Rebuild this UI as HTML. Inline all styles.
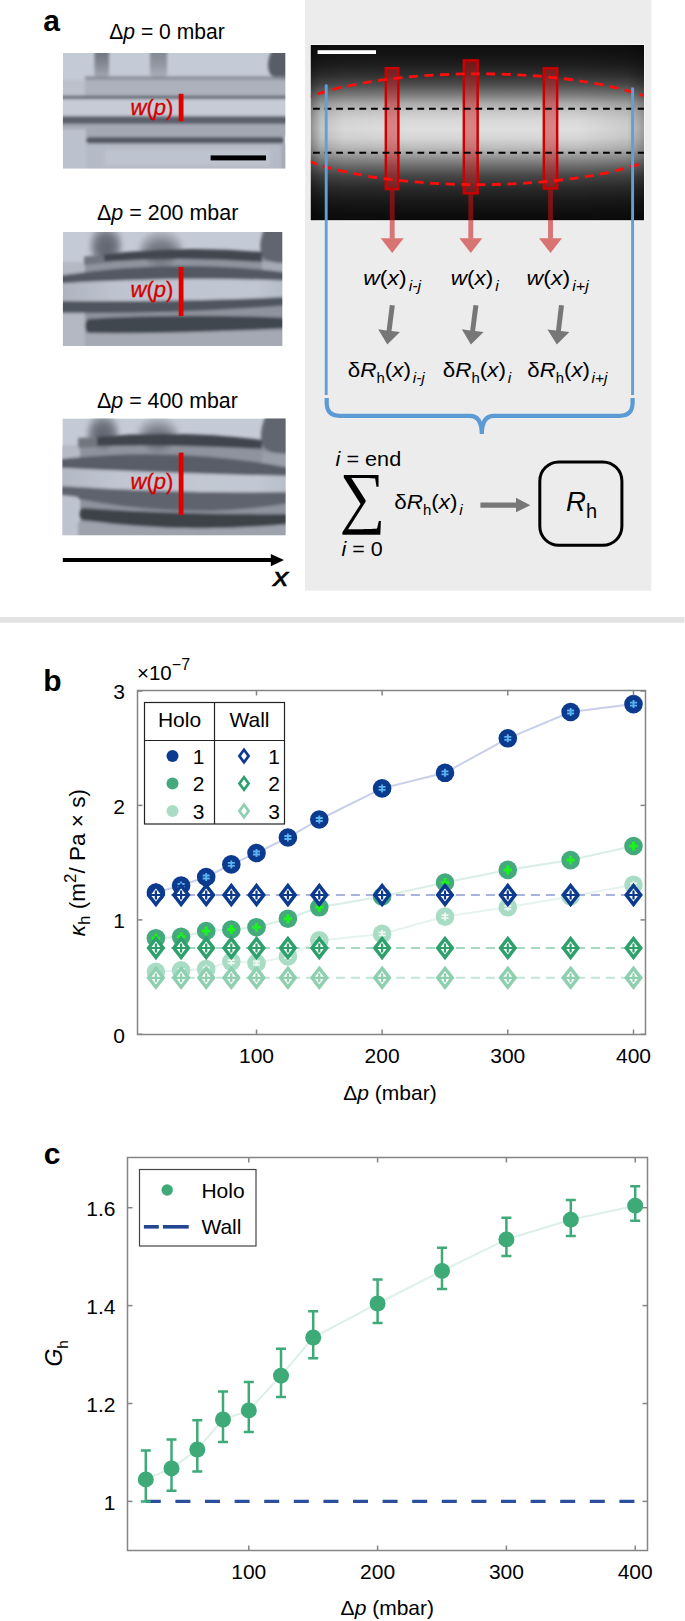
<!DOCTYPE html>
<html><head><meta charset="utf-8"><style>
html,body{margin:0;padding:0;background:#fff;}
svg{display:block;}
text{font-family:"Liberation Sans", Arial, Helvetica, sans-serif;fill:#000;}
</style></head><body>
<svg width="685" height="1621" viewBox="0 0 685 1621">
<defs>
<filter id="bl" x="-5%" y="-5%" width="110%" height="110%"><feGaussianBlur stdDeviation="1.5"/></filter>
<filter id="bl2" x="-5%" y="-5%" width="110%" height="110%"><feGaussianBlur stdDeviation="1.6"/></filter>
<linearGradient id="bl1" x1="0" y1="0" x2="0" y2="1"><stop offset="0" stop-color="#666b76"/><stop offset="0.5" stop-color="#80858f"/><stop offset="1" stop-color="#a9aeb9"/></linearGradient>
<linearGradient id="bl1b" x1="0" y1="0" x2="0" y2="1"><stop offset="0" stop-color="#7b808b"/><stop offset="0.5" stop-color="#8e939e"/><stop offset="1" stop-color="#adb2bd"/></linearGradient>
<filter id="bl3" x="-30%" y="-30%" width="160%" height="160%"><feGaussianBlur stdDeviation="2.2"/></filter>
<radialGradient id="blob" cx="0.5" cy="0.55" r="0.5"><stop offset="0" stop-color="#5e636e"/><stop offset="0.6" stop-color="#6f747f"/><stop offset="1" stop-color="#a3a8b3"/></radialGradient>
<radialGradient id="blob2" cx="0.5" cy="0.6" r="0.5"><stop offset="0" stop-color="#6a6f7a"/><stop offset="0.6" stop-color="#7a7f8a"/><stop offset="1" stop-color="#a9aeb9"/></radialGradient>
<linearGradient id="ch2" x1="0" y1="0" x2="1" y2="0"><stop offset="0" stop-color="#adb3be"/><stop offset="0.25" stop-color="#bec4cf"/><stop offset="0.85" stop-color="#c1c7d2"/><stop offset="1" stop-color="#b4bac5"/></linearGradient>
<linearGradient id="ch3" x1="0" y1="0" x2="1" y2="0"><stop offset="0" stop-color="#b2b8c3"/><stop offset="0.25" stop-color="#c0c6d1"/><stop offset="0.85" stop-color="#c2c8d3"/><stop offset="1" stop-color="#b8bec9"/></linearGradient>
<clipPath id="c1"><rect x="62.9" y="52.9" width="222.4" height="115.6"/></clipPath>
<clipPath id="c2"><rect x="62.9" y="232" width="219.4" height="113.9"/></clipPath>
<clipPath id="c3"><rect x="62.4" y="418.4" width="223.2" height="116.9"/></clipPath>
<clipPath id="cf"><rect x="310.8" y="45" width="333.2" height="175.2"/></clipPath>
<linearGradient id="fv" x1="0" y1="0" x2="0" y2="1"><stop offset="0.000" stop-color="#0e0e0e"/><stop offset="0.057" stop-color="#141414"/><stop offset="0.114" stop-color="#1e1e1e"/><stop offset="0.171" stop-color="#303030"/><stop offset="0.228" stop-color="#4e4e4e"/><stop offset="0.285" stop-color="#7c7c7c"/><stop offset="0.331" stop-color="#a8a8a8"/><stop offset="0.382" stop-color="#c8c8c8"/><stop offset="0.434" stop-color="#d9d9d9"/><stop offset="0.479" stop-color="#dedede"/><stop offset="0.531" stop-color="#d6d6d6"/><stop offset="0.588" stop-color="#bcbcbc"/><stop offset="0.639" stop-color="#969696"/><stop offset="0.691" stop-color="#6c6c6c"/><stop offset="0.748" stop-color="#464646"/><stop offset="0.811" stop-color="#2c2c2c"/><stop offset="0.873" stop-color="#1c1c1c"/><stop offset="0.942" stop-color="#111"/><stop offset="1.000" stop-color="#0a0a0a"/></linearGradient>
<linearGradient id="fh" x1="0" y1="0" x2="1" y2="0">
<stop offset="0" stop-color="#000" stop-opacity="0.35"/><stop offset="0.03" stop-color="#000" stop-opacity="0.12"/><stop offset="0.1" stop-color="#000" stop-opacity="0.03"/>
<stop offset="0.3" stop-color="#000" stop-opacity="0"/><stop offset="0.8" stop-color="#000" stop-opacity="0"/>
<stop offset="0.95" stop-color="#000" stop-opacity="0.08"/><stop offset="1" stop-color="#000" stop-opacity="0.3"/>
</linearGradient>
</defs>
<rect x="305" y="0" width="346.3" height="590.6" fill="#ececec"/>
<rect x="0" y="617" width="684.4" height="5.7" fill="#e3e3e3"/>
<text x="43.3" y="30.6" font-size="30" font-weight="bold">a</text>
<text x="109.2" y="39.4" font-size="21.5" textLength="115.5" lengthAdjust="spacingAndGlyphs">Δ<tspan font-style="italic">p</tspan> = 0 mbar</text>
<text x="97" y="220.2" font-size="21.5" textLength="141.3" lengthAdjust="spacingAndGlyphs">Δ<tspan font-style="italic">p</tspan> = 200 mbar</text>
<text x="97" y="408" font-size="21.5" textLength="140.9" lengthAdjust="spacingAndGlyphs">Δ<tspan font-style="italic">p</tspan> = 400 mbar</text>
<g clip-path="url(#c1)"><rect x="62.9" y="52.9" width="222.4" height="115.6" fill="#c4cad6"/><g filter="url(#bl)"><rect x="85" y="78" width="205" height="18" fill="#acb1bc"/><rect x="60" y="80" width="25" height="16" fill="#bcc1cc"/><rect x="94.5" y="45" width="14.5" height="35" rx="6" fill="url(#bl1)"/><rect x="150" y="45" width="17" height="34" rx="6" fill="url(#bl1b)"/><path d="M290 50 L272 50 Q265 64 270 74 Q276 80 290 80Z" fill="#585d68"/><rect x="85" y="76.5" width="205" height="3" fill="#858a95"/><rect x="60" y="95.8" width="230" height="3.4" fill="#5b606b"/><rect x="60" y="99.2" width="230" height="16.8" fill="#c6cbd5"/><rect x="60" y="116" width="230" height="8" fill="#5c616c"/><rect x="60" y="124" width="230" height="13" fill="#a3a8b3"/><rect x="60" y="129" width="26" height="42" fill="#bcc2cd"/><rect x="86" y="143" width="204" height="28" fill="#b5bbc6"/><rect x="105" y="150" width="165" height="15" fill="#bec4cf"/><rect x="281" y="143" width="9" height="30" fill="#a5aab5"/><rect x="86" y="137" width="198" height="6.5" rx="3.2" fill="#535863"/></g></g>
<g clip-path="url(#c2)"><rect x="62.9" y="232" width="219.4" height="113.9" fill="#c4cad6"/><g filter="url(#bl2)"><path d="M60 262 L85 262 L85 348 L60 348Z" fill="#b3b8c3"/><path d="M85 256 L290 252 L290 348 L85 348Z" fill="#8e939e"/><path d="M85 333 L290 330 L290 348 L85 348Z" fill="#a4a9b4"/><path d="M262 262 L290 262 L290 273 L262 272Z" fill="#a5aab5"/><ellipse cx="106" cy="245" rx="16" ry="20" fill="url(#blob)" filter="url(#bl3)"/><ellipse cx="161" cy="250" rx="22" ry="19" fill="url(#blob2)" filter="url(#bl3)"/><path d="M290 229 L264 229 Q257 248 263 258 Q270 264 290 263Z" fill="#60656f"/><path d="M100 255 Q180 245 262 252 L262 262 Q180 256 100 262Z" fill="#42474f"/><path d="M84 257 L104 255 L104 263 L84 265Z" fill="#6f747f"/><path d="M60 275.5 Q180 258 290 273 L290 281 Q180 276 60 283.5Z" fill="#535863"/><path d="M60 283.5 Q180 276 290 281 L290 297 Q180 302 60 301Z" fill="url(#ch2)"/><path d="M60 301 Q180 302 290 297 L290 305 Q180 314 60 313Z" fill="#4f545e"/><path d="M88 319 Q180 313 290 318 L290 328 Q180 334 88 333 Q82 326 88 319Z" fill="#41464f"/></g></g>
<g clip-path="url(#c3)"><rect x="62.4" y="418.4" width="223.2" height="116.9" fill="#c4cad6"/><g filter="url(#bl2)"><path d="M80 440 L290 440 L290 540 L80 540Z" fill="#8e939e"/><path d="M78 522 L290 520 L290 540 L78 540Z" fill="#9da2ad"/><path d="M60 445 L80 445 L80 458 L60 458Z" fill="#b5bac5"/><ellipse cx="103" cy="433" rx="16" ry="19" fill="url(#blob)" filter="url(#bl3)"/><ellipse cx="158" cy="436" rx="21" ry="18" fill="url(#blob2)" filter="url(#bl3)"/><path d="M290 415 L266 415 Q257 436 264 448 Q272 455 290 454Z" fill="#60656f"/><path d="M262 452 L290 454 L290 468 L262 466Z" fill="#9a9faa"/><path d="M95 437 Q180 429 262 440 L262 449 Q180 444 95 446Z" fill="#3f444d"/><path d="M78 438 L97 437 L97 447 L78 448Z" fill="#72777f"/><path d="M60 459 Q180 446 290 468 L290 476 Q180 474 60 468Z" fill="#585d68"/><path d="M60 468 Q180 474 290 476 L290 492 Q180 494 60 486Z" fill="url(#ch3)"/><path d="M60 486 Q180 494 290 492 L290 503 Q180 522 60 495Z" fill="#5e636e"/><path d="M82 508 Q180 515 290 514 L290 524 Q180 534 82 520 Q76 514 82 508Z" fill="#3d424a"/><path d="M60 495 L78 497 L78 540 L60 540Z" fill="#bec4cf"/></g></g>
<rect x="178.7" y="93.8" width="4.8" height="27.5" fill="#e00000"/>
<text x="130.5" y="115.3" font-size="22" style="fill:#d40000;stroke:#d40000;stroke-width:0.35"><tspan font-style="italic">w</tspan>(<tspan font-style="italic">p</tspan>)</text>
<rect x="178.7" y="267" width="4.8" height="49.1" fill="#e00000"/>
<text x="130.5" y="297" font-size="22" style="fill:#d40000;stroke:#d40000;stroke-width:0.35"><tspan font-style="italic">w</tspan>(<tspan font-style="italic">p</tspan>)</text>
<rect x="178.7" y="452.6" width="4.8" height="62.5" fill="#e00000"/>
<text x="130.5" y="489" font-size="22" style="fill:#d40000;stroke:#d40000;stroke-width:0.35"><tspan font-style="italic">w</tspan>(<tspan font-style="italic">p</tspan>)</text>
<rect x="210.6" y="155.4" width="55.4" height="5" fill="#000"/>
<rect x="62.8" y="558" width="210" height="4" fill="#000"/>
<path d="M270.8 553.9L284 560L270.8 566.3Z" fill="#000"/>
<text transform="translate(273.3,585.8) scale(1.2,1)" font-size="25" font-style="italic" style="stroke:#000;stroke-width:0.6">x</text>
<rect x="309.8" y="44" width="335.2" height="177.4" fill="#f6f6f6"/>
<rect x="310.8" y="45" width="333.2" height="175.2" fill="url(#fv)"/>
<rect x="310.8" y="45" width="333.2" height="175.2" fill="url(#fh)"/>
<rect x="317.6" y="50.2" width="58.4" height="3.8" fill="#fff"/>
<rect x="385.85" y="68.25" width="12.50" height="120.80" fill="rgba(210,25,25,0.45)" stroke="#cc0000" stroke-width="2.5"/>
<rect x="389.75" y="190.3" width="4.9" height="48.0" fill="rgba(201,18,18,0.55)"/>
<path d="M380.75 238.3 L403.65 238.3 L392.20 252.9Z" fill="rgba(201,18,18,0.55)"/>
<rect x="463.85" y="60.45" width="13.80" height="132.80" fill="rgba(210,25,25,0.45)" stroke="#cc0000" stroke-width="2.5"/>
<rect x="468.35" y="194.5" width="4.9" height="43.8" fill="rgba(201,18,18,0.55)"/>
<path d="M459.35 238.3 L482.25 238.3 L470.80 252.9Z" fill="rgba(201,18,18,0.55)"/>
<rect x="543.85" y="68.35" width="13.30" height="120.10" fill="rgba(210,25,25,0.45)" stroke="#cc0000" stroke-width="2.5"/>
<rect x="548.05" y="189.7" width="4.9" height="48.6" fill="rgba(201,18,18,0.55)"/>
<path d="M539.05 238.3 L561.95 238.3 L550.50 252.9Z" fill="rgba(201,18,18,0.55)"/>
<g clip-path="url(#cf)">
<ellipse cx="478" cy="129.2" rx="208" ry="55.4" fill="none" stroke="#ff0d0d" stroke-width="2.8" stroke-dasharray="9,6.5"/>
</g>
<line x1="313" y1="108.8" x2="644" y2="108.8" stroke="#000" stroke-width="2" stroke-dasharray="6.8,4.8"/>
<line x1="313" y1="152.7" x2="644" y2="152.7" stroke="#000" stroke-width="2" stroke-dasharray="6.8,4.8"/>
<line x1="326.2" y1="84.4" x2="326.2" y2="395" stroke="#5e9fdc" stroke-width="2.9"/>
<line x1="632.6" y1="87.6" x2="632.6" y2="395" stroke="#5e9fdc" stroke-width="2.9"/>
<path d="M326.7 398 L326.7 402.8 Q326.7 415.8 339.7 415.8 L469.6 415.8 Q481.8 415.8 481.8 434 Q481.8 415.8 494 415.8 L619.6 415.8 Q632.6 415.8 632.6 402.8 L632.6 398" fill="none" stroke="#5b9bd5" stroke-width="4.2"/>
<text transform="translate(363.3,284.8) scale(1.09,1)" font-size="21"><tspan font-style="italic">w</tspan>(<tspan font-style="italic">x</tspan>)<tspan font-style="italic" font-size="14.5" dx="2" dy="5.8">i-j</tspan></text>
<text transform="translate(450.8,284.8) scale(1.07,1)" font-size="21"><tspan font-style="italic">w</tspan>(<tspan font-style="italic">x</tspan>)<tspan font-style="italic" font-size="14.5" dx="2" dy="5.8">i</tspan></text>
<text transform="translate(526.5,284.8) scale(1.1,1)" font-size="21"><tspan font-style="italic">w</tspan>(<tspan font-style="italic">x</tspan>)<tspan font-style="italic" font-size="14.5" dx="2" dy="5.8">i+j</tspan></text>
<path d="M389.8 304.9 L386.6 330.4 L378.2 329.3 L387.3 344.6 L400.0 332.1 L391.5 331.0 L394.8 305.5Z" fill="#777"/>
<path d="M473.4 304.9 L470.2 330.4 L461.8 329.3 L470.9 344.6 L483.6 332.1 L475.1 331.0 L478.4 305.5Z" fill="#777"/>
<path d="M559.0 304.9 L556.0 330.4 L547.5 329.4 L556.8 344.6 L569.4 332.0 L560.9 331.0 L564.0 305.5Z" fill="#777"/>
<text transform="translate(347.8,376.5) scale(1.07,1)" font-size="21">δ<tspan font-style="italic">R</tspan><tspan font-size="14" dy="6.5">h</tspan><tspan dy="-6.5">(</tspan><tspan font-style="italic">x</tspan>)<tspan font-style="italic" font-size="14.5" dx="1.5" dy="6.5">i-j</tspan></text>
<text transform="translate(442.8,376.5) scale(1.07,1)" font-size="21">δ<tspan font-style="italic">R</tspan><tspan font-size="14" dy="6.5">h</tspan><tspan dy="-6.5">(</tspan><tspan font-style="italic">x</tspan>)<tspan font-style="italic" font-size="14.5" dx="1.5" dy="6.5">i</tspan></text>
<text transform="translate(527.3,376.5) scale(1.06,1)" font-size="21">δ<tspan font-style="italic">R</tspan><tspan font-size="14" dy="6.5">h</tspan><tspan dy="-6.5">(</tspan><tspan font-style="italic">x</tspan>)<tspan font-style="italic" font-size="14.5" dx="1.5" dy="6.5">i+j</tspan></text>
<text transform="translate(335.6,465.5) scale(1.11,1)" font-size="19.5"><tspan font-style="italic">i</tspan> = end</text>
<text transform="translate(341.6,555.5) scale(1.1,1)" font-size="19.5"><tspan font-style="italic">i</tspan> = 0</text>
<text x="0" y="0" font-size="69" font-family="Liberation Serif" transform="translate(339.5,519.6) scale(0.933,1)" style="font-family:'Liberation Serif',serif">∑</text>
<text transform="translate(394.3,508.5) scale(1.07,1)" font-size="21">δ<tspan font-style="italic">R</tspan><tspan font-size="14" dy="6.5">h</tspan><tspan dy="-6.5">(</tspan><tspan font-style="italic">x</tspan>)<tspan font-style="italic" font-size="14.5" dx="1.5" dy="6.5">i</tspan></text>
<path d="M480.4 502.6 L516 502.6 L516 497.7 L530.3 505.2 L516 512.3 L516 507.8 L480.4 507.8Z" fill="#777"/>
<rect x="539.8" y="461.9" width="82.1" height="83.4" rx="19" fill="none" stroke="#000" stroke-width="3"/>
<text x="566" y="511.3" font-size="27.5"><tspan font-style="italic">R</tspan><tspan font-size="20" dy="7">h</tspan></text>
<polyline points="155.9,971.8 181.1,970.4 206.2,969.0 231.3,961.6 256.5,963.0 287.9,956.5 319.3,940.4 382.1,933.9 445.0,916.6 507.8,907.3 570.6,896.5 633.5,884.8" fill="none" stroke="#e6f3ee" stroke-width="2"/>
<polyline points="155.9,938.2 181.1,936.8 206.2,931.0 231.3,929.5 256.5,927.2 287.9,918.7 319.3,907.3 382.1,896.5 445.0,882.5 507.8,869.9 570.6,860.1 633.5,846.0" fill="none" stroke="#d9efe5" stroke-width="2"/>
<polyline points="155.9,892.5 181.1,885.5 206.2,877.0 231.3,864.4 256.5,853.0 287.9,837.5 319.3,819.5 382.1,788.4 445.0,772.8 507.8,738.3 570.6,712.0 633.5,704.1" fill="none" stroke="#c9cfe8" stroke-width="2"/>
<line x1="155.9" y1="895.0" x2="633.5" y2="895.0" stroke="#a9b3d9" stroke-width="2" stroke-dasharray="9,6"/>
<line x1="155.9" y1="948.0" x2="633.5" y2="948.0" stroke="#a6d8c0" stroke-width="2" stroke-dasharray="9,6"/>
<line x1="155.9" y1="977.8" x2="633.5" y2="977.8" stroke="#c2e6d5" stroke-width="2" stroke-dasharray="9,6"/>
<circle cx="155.9" cy="971.8" r="9.3" fill="#a9dcc5"/><path d="M155.9 967.8V975.8M152.4 970.3H159.4M152.4 973.3H159.4" stroke="#eef8f3" stroke-width="1.8" fill="none"/>
<circle cx="181.1" cy="970.4" r="9.3" fill="#a9dcc5"/><path d="M181.1 966.4V974.4M177.6 968.9H184.6M177.6 971.9H184.6" stroke="#eef8f3" stroke-width="1.8" fill="none"/>
<circle cx="206.2" cy="969.0" r="9.3" fill="#a9dcc5"/><path d="M206.2 965.0V973.0M202.7 967.5H209.7M202.7 970.5H209.7" stroke="#eef8f3" stroke-width="1.8" fill="none"/>
<circle cx="231.3" cy="961.6" r="9.3" fill="#a9dcc5"/><path d="M231.3 957.6V965.6M227.8 960.1H234.8M227.8 963.1H234.8" stroke="#eef8f3" stroke-width="1.8" fill="none"/>
<circle cx="256.5" cy="963.0" r="9.3" fill="#a9dcc5"/><path d="M256.5 959.0V967.0M253.0 961.5H260.0M253.0 964.5H260.0" stroke="#eef8f3" stroke-width="1.8" fill="none"/>
<circle cx="287.9" cy="956.5" r="9.3" fill="#a9dcc5"/><path d="M287.9 952.5V960.5M284.4 955.0H291.4M284.4 958.0H291.4" stroke="#eef8f3" stroke-width="1.8" fill="none"/>
<circle cx="319.3" cy="940.4" r="9.3" fill="#a9dcc5"/><path d="M319.3 936.4V944.4M315.8 938.9H322.8M315.8 941.9H322.8" stroke="#eef8f3" stroke-width="1.8" fill="none"/>
<circle cx="382.1" cy="933.9" r="9.3" fill="#a9dcc5"/><path d="M382.1 929.9V937.9M378.6 932.4H385.6M378.6 935.4H385.6" stroke="#eef8f3" stroke-width="1.8" fill="none"/>
<circle cx="445.0" cy="916.6" r="9.3" fill="#a9dcc5"/><path d="M445.0 912.6V920.6M441.5 915.1H448.5M441.5 918.1H448.5" stroke="#eef8f3" stroke-width="1.8" fill="none"/>
<circle cx="507.8" cy="907.3" r="9.3" fill="#a9dcc5"/><path d="M507.8 903.3V911.3M504.3 905.8H511.3M504.3 908.8H511.3" stroke="#eef8f3" stroke-width="1.8" fill="none"/>
<circle cx="570.6" cy="896.5" r="9.3" fill="#a9dcc5"/><path d="M570.6 892.5V900.5M567.1 895.0H574.1M567.1 898.0H574.1" stroke="#eef8f3" stroke-width="1.8" fill="none"/>
<circle cx="633.5" cy="884.8" r="9.3" fill="#a9dcc5"/><path d="M633.5 880.8V888.8M630.0 883.3H637.0M630.0 886.3H637.0" stroke="#eef8f3" stroke-width="1.8" fill="none"/>
<path d="M155.9 968.4L163.2 977.8L155.9 987.2L148.6 977.8Z" fill="#fff" stroke="#8dcfae" stroke-width="3.4"/><path d="M155.9 973.3V982.3M150.4 977.8H161.4" stroke="#8dcfae" stroke-width="2.2" fill="none"/>
<path d="M181.1 968.4L188.4 977.8L181.1 987.2L173.8 977.8Z" fill="#fff" stroke="#8dcfae" stroke-width="3.4"/><path d="M181.1 973.3V982.3M175.6 977.8H186.6" stroke="#8dcfae" stroke-width="2.2" fill="none"/>
<path d="M206.2 968.4L213.5 977.8L206.2 987.2L198.9 977.8Z" fill="#fff" stroke="#8dcfae" stroke-width="3.4"/><path d="M206.2 973.3V982.3M200.7 977.8H211.7" stroke="#8dcfae" stroke-width="2.2" fill="none"/>
<path d="M231.3 968.4L238.6 977.8L231.3 987.2L224.0 977.8Z" fill="#fff" stroke="#8dcfae" stroke-width="3.4"/><path d="M231.3 973.3V982.3M225.8 977.8H236.8" stroke="#8dcfae" stroke-width="2.2" fill="none"/>
<path d="M256.5 968.4L263.8 977.8L256.5 987.2L249.2 977.8Z" fill="#fff" stroke="#8dcfae" stroke-width="3.4"/><path d="M256.5 973.3V982.3M251.0 977.8H262.0" stroke="#8dcfae" stroke-width="2.2" fill="none"/>
<path d="M287.9 968.4L295.2 977.8L287.9 987.2L280.6 977.8Z" fill="#fff" stroke="#8dcfae" stroke-width="3.4"/><path d="M287.9 973.3V982.3M282.4 977.8H293.4" stroke="#8dcfae" stroke-width="2.2" fill="none"/>
<path d="M319.3 968.4L326.6 977.8L319.3 987.2L312.0 977.8Z" fill="#fff" stroke="#8dcfae" stroke-width="3.4"/><path d="M319.3 973.3V982.3M313.8 977.8H324.8" stroke="#8dcfae" stroke-width="2.2" fill="none"/>
<path d="M382.1 968.4L389.4 977.8L382.1 987.2L374.8 977.8Z" fill="#fff" stroke="#8dcfae" stroke-width="3.4"/><path d="M382.1 973.3V982.3M376.6 977.8H387.6" stroke="#8dcfae" stroke-width="2.2" fill="none"/>
<path d="M445.0 968.4L452.3 977.8L445.0 987.2L437.7 977.8Z" fill="#fff" stroke="#8dcfae" stroke-width="3.4"/><path d="M445.0 973.3V982.3M439.5 977.8H450.5" stroke="#8dcfae" stroke-width="2.2" fill="none"/>
<path d="M507.8 968.4L515.1 977.8L507.8 987.2L500.5 977.8Z" fill="#fff" stroke="#8dcfae" stroke-width="3.4"/><path d="M507.8 973.3V982.3M502.3 977.8H513.3" stroke="#8dcfae" stroke-width="2.2" fill="none"/>
<path d="M570.6 968.4L577.9 977.8L570.6 987.2L563.3 977.8Z" fill="#fff" stroke="#8dcfae" stroke-width="3.4"/><path d="M570.6 973.3V982.3M565.1 977.8H576.1" stroke="#8dcfae" stroke-width="2.2" fill="none"/>
<path d="M633.5 968.4L640.8 977.8L633.5 987.2L626.2 977.8Z" fill="#fff" stroke="#8dcfae" stroke-width="3.4"/><path d="M633.5 973.3V982.3M628.0 977.8H639.0" stroke="#8dcfae" stroke-width="2.2" fill="none"/>
<circle cx="155.9" cy="938.2" r="9.3" fill="#44a97d"/>
<path d="M155.9 933.7V942.7M151.7 938.2H160.1" stroke="#1df21d" stroke-width="3" fill="none"/>
<circle cx="181.1" cy="936.8" r="9.3" fill="#44a97d"/>
<path d="M181.1 932.3V941.3M176.9 936.8H185.3" stroke="#1df21d" stroke-width="3" fill="none"/>
<circle cx="206.2" cy="931.0" r="9.3" fill="#44a97d"/>
<path d="M206.2 926.5V935.5M202.0 931.0H210.4" stroke="#1df21d" stroke-width="3" fill="none"/>
<circle cx="231.3" cy="929.5" r="9.3" fill="#44a97d"/>
<path d="M231.3 925.0V934.0M227.1 929.5H235.5" stroke="#1df21d" stroke-width="3" fill="none"/>
<circle cx="256.5" cy="927.2" r="9.3" fill="#44a97d"/>
<path d="M256.5 922.7V931.7M252.3 927.2H260.7" stroke="#1df21d" stroke-width="3" fill="none"/>
<circle cx="287.9" cy="918.7" r="9.3" fill="#44a97d"/>
<path d="M287.9 914.2V923.2M283.7 918.7H292.1" stroke="#1df21d" stroke-width="3" fill="none"/>
<circle cx="319.3" cy="907.3" r="9.3" fill="#44a97d"/>
<path d="M319.3 902.8V911.8M315.1 907.3H323.5" stroke="#1df21d" stroke-width="3" fill="none"/>
<circle cx="382.1" cy="896.5" r="9.3" fill="#44a97d"/>
<path d="M382.1 892.0V901.0M377.9 896.5H386.3" stroke="#1df21d" stroke-width="3" fill="none"/>
<circle cx="445.0" cy="882.5" r="9.3" fill="#44a97d"/>
<path d="M445.0 878.0V887.0M440.8 882.5H449.2" stroke="#1df21d" stroke-width="3" fill="none"/>
<circle cx="507.8" cy="869.9" r="9.3" fill="#44a97d"/>
<path d="M507.8 865.4V874.4M503.6 869.9H512.0" stroke="#1df21d" stroke-width="3" fill="none"/>
<circle cx="570.6" cy="860.1" r="9.3" fill="#44a97d"/>
<path d="M570.6 855.6V864.6M566.4 860.1H574.8" stroke="#1df21d" stroke-width="3" fill="none"/>
<circle cx="633.5" cy="846.0" r="9.3" fill="#44a97d"/>
<path d="M633.5 841.5V850.5M629.3 846.0H637.7" stroke="#1df21d" stroke-width="3" fill="none"/>
<path d="M155.9 938.6L163.2 948.0L155.9 957.4L148.6 948.0Z" fill="#fff" stroke="#2ea06c" stroke-width="3.4"/><path d="M155.9 943.5V952.5M150.4 948.0H161.4" stroke="#2ea06c" stroke-width="2.2" fill="none"/>
<path d="M181.1 938.6L188.4 948.0L181.1 957.4L173.8 948.0Z" fill="#fff" stroke="#2ea06c" stroke-width="3.4"/><path d="M181.1 943.5V952.5M175.6 948.0H186.6" stroke="#2ea06c" stroke-width="2.2" fill="none"/>
<path d="M206.2 938.6L213.5 948.0L206.2 957.4L198.9 948.0Z" fill="#fff" stroke="#2ea06c" stroke-width="3.4"/><path d="M206.2 943.5V952.5M200.7 948.0H211.7" stroke="#2ea06c" stroke-width="2.2" fill="none"/>
<path d="M231.3 938.6L238.6 948.0L231.3 957.4L224.0 948.0Z" fill="#fff" stroke="#2ea06c" stroke-width="3.4"/><path d="M231.3 943.5V952.5M225.8 948.0H236.8" stroke="#2ea06c" stroke-width="2.2" fill="none"/>
<path d="M256.5 938.6L263.8 948.0L256.5 957.4L249.2 948.0Z" fill="#fff" stroke="#2ea06c" stroke-width="3.4"/><path d="M256.5 943.5V952.5M251.0 948.0H262.0" stroke="#2ea06c" stroke-width="2.2" fill="none"/>
<path d="M287.9 938.6L295.2 948.0L287.9 957.4L280.6 948.0Z" fill="#fff" stroke="#2ea06c" stroke-width="3.4"/><path d="M287.9 943.5V952.5M282.4 948.0H293.4" stroke="#2ea06c" stroke-width="2.2" fill="none"/>
<path d="M319.3 938.6L326.6 948.0L319.3 957.4L312.0 948.0Z" fill="#fff" stroke="#2ea06c" stroke-width="3.4"/><path d="M319.3 943.5V952.5M313.8 948.0H324.8" stroke="#2ea06c" stroke-width="2.2" fill="none"/>
<path d="M382.1 938.6L389.4 948.0L382.1 957.4L374.8 948.0Z" fill="#fff" stroke="#2ea06c" stroke-width="3.4"/><path d="M382.1 943.5V952.5M376.6 948.0H387.6" stroke="#2ea06c" stroke-width="2.2" fill="none"/>
<path d="M445.0 938.6L452.3 948.0L445.0 957.4L437.7 948.0Z" fill="#fff" stroke="#2ea06c" stroke-width="3.4"/><path d="M445.0 943.5V952.5M439.5 948.0H450.5" stroke="#2ea06c" stroke-width="2.2" fill="none"/>
<path d="M507.8 938.6L515.1 948.0L507.8 957.4L500.5 948.0Z" fill="#fff" stroke="#2ea06c" stroke-width="3.4"/><path d="M507.8 943.5V952.5M502.3 948.0H513.3" stroke="#2ea06c" stroke-width="2.2" fill="none"/>
<path d="M570.6 938.6L577.9 948.0L570.6 957.4L563.3 948.0Z" fill="#fff" stroke="#2ea06c" stroke-width="3.4"/><path d="M570.6 943.5V952.5M565.1 948.0H576.1" stroke="#2ea06c" stroke-width="2.2" fill="none"/>
<path d="M633.5 938.6L640.8 948.0L633.5 957.4L626.2 948.0Z" fill="#fff" stroke="#2ea06c" stroke-width="3.4"/><path d="M633.5 943.5V952.5M628.0 948.0H639.0" stroke="#2ea06c" stroke-width="2.2" fill="none"/>
<circle cx="155.9" cy="892.5" r="9.3" fill="#0c3a8e"/><path d="M155.9 888.5V896.5M152.4 891.0H159.4M152.4 894.0H159.4" stroke="#5ab4f0" stroke-width="1.8" fill="none"/>
<circle cx="181.1" cy="885.5" r="9.3" fill="#0c3a8e"/><path d="M181.1 881.5V889.5M177.6 884.0H184.6M177.6 887.0H184.6" stroke="#5ab4f0" stroke-width="1.8" fill="none"/>
<circle cx="206.2" cy="877.0" r="9.3" fill="#0c3a8e"/><path d="M206.2 873.0V881.0M202.7 875.5H209.7M202.7 878.5H209.7" stroke="#5ab4f0" stroke-width="1.8" fill="none"/>
<circle cx="231.3" cy="864.4" r="9.3" fill="#0c3a8e"/><path d="M231.3 860.4V868.4M227.8 862.9H234.8M227.8 865.9H234.8" stroke="#5ab4f0" stroke-width="1.8" fill="none"/>
<circle cx="256.5" cy="853.0" r="9.3" fill="#0c3a8e"/><path d="M256.5 849.0V857.0M253.0 851.5H260.0M253.0 854.5H260.0" stroke="#5ab4f0" stroke-width="1.8" fill="none"/>
<circle cx="287.9" cy="837.5" r="9.3" fill="#0c3a8e"/><path d="M287.9 833.5V841.5M284.4 836.0H291.4M284.4 839.0H291.4" stroke="#5ab4f0" stroke-width="1.8" fill="none"/>
<circle cx="319.3" cy="819.5" r="9.3" fill="#0c3a8e"/><path d="M319.3 815.5V823.5M315.8 818.0H322.8M315.8 821.0H322.8" stroke="#5ab4f0" stroke-width="1.8" fill="none"/>
<circle cx="382.1" cy="788.4" r="9.3" fill="#0c3a8e"/><path d="M382.1 784.4V792.4M378.6 786.9H385.6M378.6 789.9H385.6" stroke="#5ab4f0" stroke-width="1.8" fill="none"/>
<circle cx="445.0" cy="772.8" r="9.3" fill="#0c3a8e"/><path d="M445.0 768.8V776.8M441.5 771.3H448.5M441.5 774.3H448.5" stroke="#5ab4f0" stroke-width="1.8" fill="none"/>
<circle cx="507.8" cy="738.3" r="9.3" fill="#0c3a8e"/><path d="M507.8 734.3V742.3M504.3 736.8H511.3M504.3 739.8H511.3" stroke="#5ab4f0" stroke-width="1.8" fill="none"/>
<circle cx="570.6" cy="712.0" r="9.3" fill="#0c3a8e"/><path d="M570.6 708.0V716.0M567.1 710.5H574.1M567.1 713.5H574.1" stroke="#5ab4f0" stroke-width="1.8" fill="none"/>
<circle cx="633.5" cy="704.1" r="9.3" fill="#0c3a8e"/><path d="M633.5 700.1V708.1M630.0 702.6H637.0M630.0 705.6H637.0" stroke="#5ab4f0" stroke-width="1.8" fill="none"/>
<path d="M155.9 885.6L163.2 895.0L155.9 904.4L148.6 895.0Z" fill="#fff" stroke="#0c3a8e" stroke-width="3.4"/><path d="M155.9 890.5V899.5M150.4 895.0H161.4" stroke="#0c3a8e" stroke-width="2.2" fill="none"/>
<path d="M181.1 885.6L188.4 895.0L181.1 904.4L173.8 895.0Z" fill="#fff" stroke="#0c3a8e" stroke-width="3.4"/><path d="M181.1 890.5V899.5M175.6 895.0H186.6" stroke="#0c3a8e" stroke-width="2.2" fill="none"/>
<path d="M206.2 885.6L213.5 895.0L206.2 904.4L198.9 895.0Z" fill="#fff" stroke="#0c3a8e" stroke-width="3.4"/><path d="M206.2 890.5V899.5M200.7 895.0H211.7" stroke="#0c3a8e" stroke-width="2.2" fill="none"/>
<path d="M231.3 885.6L238.6 895.0L231.3 904.4L224.0 895.0Z" fill="#fff" stroke="#0c3a8e" stroke-width="3.4"/><path d="M231.3 890.5V899.5M225.8 895.0H236.8" stroke="#0c3a8e" stroke-width="2.2" fill="none"/>
<path d="M256.5 885.6L263.8 895.0L256.5 904.4L249.2 895.0Z" fill="#fff" stroke="#0c3a8e" stroke-width="3.4"/><path d="M256.5 890.5V899.5M251.0 895.0H262.0" stroke="#0c3a8e" stroke-width="2.2" fill="none"/>
<path d="M287.9 885.6L295.2 895.0L287.9 904.4L280.6 895.0Z" fill="#fff" stroke="#0c3a8e" stroke-width="3.4"/><path d="M287.9 890.5V899.5M282.4 895.0H293.4" stroke="#0c3a8e" stroke-width="2.2" fill="none"/>
<path d="M319.3 885.6L326.6 895.0L319.3 904.4L312.0 895.0Z" fill="#fff" stroke="#0c3a8e" stroke-width="3.4"/><path d="M319.3 890.5V899.5M313.8 895.0H324.8" stroke="#0c3a8e" stroke-width="2.2" fill="none"/>
<path d="M382.1 885.6L389.4 895.0L382.1 904.4L374.8 895.0Z" fill="#fff" stroke="#0c3a8e" stroke-width="3.4"/><path d="M382.1 890.5V899.5M376.6 895.0H387.6" stroke="#0c3a8e" stroke-width="2.2" fill="none"/>
<path d="M445.0 885.6L452.3 895.0L445.0 904.4L437.7 895.0Z" fill="#fff" stroke="#0c3a8e" stroke-width="3.4"/><path d="M445.0 890.5V899.5M439.5 895.0H450.5" stroke="#0c3a8e" stroke-width="2.2" fill="none"/>
<path d="M507.8 885.6L515.1 895.0L507.8 904.4L500.5 895.0Z" fill="#fff" stroke="#0c3a8e" stroke-width="3.4"/><path d="M507.8 890.5V899.5M502.3 895.0H513.3" stroke="#0c3a8e" stroke-width="2.2" fill="none"/>
<path d="M570.6 885.6L577.9 895.0L570.6 904.4L563.3 895.0Z" fill="#fff" stroke="#0c3a8e" stroke-width="3.4"/><path d="M570.6 890.5V899.5M565.1 895.0H576.1" stroke="#0c3a8e" stroke-width="2.2" fill="none"/>
<path d="M633.5 885.6L640.8 895.0L633.5 904.4L626.2 895.0Z" fill="#fff" stroke="#0c3a8e" stroke-width="3.4"/><path d="M633.5 890.5V899.5M628.0 895.0H639.0" stroke="#0c3a8e" stroke-width="2.2" fill="none"/>
<rect x="137.5" y="690.5" width="508" height="344" fill="none" stroke="#858585" stroke-width="1.5"/>
<line x1="256.5" y1="1034.5" x2="256.5" y2="1029.5" stroke="#858585" stroke-width="1.5"/>
<line x1="256.5" y1="690.5" x2="256.5" y2="695.5" stroke="#858585" stroke-width="1.5"/>
<text x="256.5" y="1063" text-anchor="middle" font-size="21">100</text>
<line x1="382.1" y1="1034.5" x2="382.1" y2="1029.5" stroke="#858585" stroke-width="1.5"/>
<line x1="382.1" y1="690.5" x2="382.1" y2="695.5" stroke="#858585" stroke-width="1.5"/>
<text x="382.1" y="1063" text-anchor="middle" font-size="21">200</text>
<line x1="507.8" y1="1034.5" x2="507.8" y2="1029.5" stroke="#858585" stroke-width="1.5"/>
<line x1="507.8" y1="690.5" x2="507.8" y2="695.5" stroke="#858585" stroke-width="1.5"/>
<text x="507.8" y="1063" text-anchor="middle" font-size="21">300</text>
<line x1="633.5" y1="1034.5" x2="633.5" y2="1029.5" stroke="#858585" stroke-width="1.5"/>
<line x1="633.5" y1="690.5" x2="633.5" y2="695.5" stroke="#858585" stroke-width="1.5"/>
<text x="633.5" y="1063" text-anchor="middle" font-size="21">400</text>
<line x1="137.5" y1="1034.3" x2="142.5" y2="1034.3" stroke="#858585" stroke-width="1.5"/>
<line x1="645.5" y1="1034.3" x2="640.5" y2="1034.3" stroke="#858585" stroke-width="1.5"/>
<text x="125" y="1042.5" text-anchor="end" font-size="21">0</text>
<line x1="137.5" y1="919.9" x2="142.5" y2="919.9" stroke="#858585" stroke-width="1.5"/>
<line x1="645.5" y1="919.9" x2="640.5" y2="919.9" stroke="#858585" stroke-width="1.5"/>
<text x="125" y="928.1" text-anchor="end" font-size="21">1</text>
<line x1="137.5" y1="805.4" x2="142.5" y2="805.4" stroke="#858585" stroke-width="1.5"/>
<line x1="645.5" y1="805.4" x2="640.5" y2="805.4" stroke="#858585" stroke-width="1.5"/>
<text x="125" y="813.6" text-anchor="end" font-size="21">2</text>
<line x1="137.5" y1="691.0" x2="142.5" y2="691.0" stroke="#858585" stroke-width="1.5"/>
<line x1="645.5" y1="691.0" x2="640.5" y2="691.0" stroke="#858585" stroke-width="1.5"/>
<text x="125" y="699.2" text-anchor="end" font-size="21">3</text>
<rect x="144.5" y="702.5" width="140" height="121.5" fill="#fff" stroke="#222" stroke-width="1.2"/>
<line x1="214.5" y1="702.5" x2="214.5" y2="824" stroke="#222" stroke-width="1.2"/>
<line x1="144.5" y1="740.5" x2="284.5" y2="740.5" stroke="#222" stroke-width="1.2"/>
<text x="179.5" y="727" text-anchor="middle" font-size="21">Holo</text>
<text x="249.5" y="727" text-anchor="middle" font-size="21">Wall</text>
<circle cx="172.5" cy="756.0" r="6" fill="#0c3a8e"/>
<text x="198.5" y="763.5" text-anchor="middle" font-size="21">1</text>
<path d="M244 749.7L248.6 756.0L244 762.3L239.4 756.0Z" fill="#fff" stroke="#0c3a8e" stroke-width="2.7"/>
<text x="274" y="763.5" text-anchor="middle" font-size="21">1</text>
<circle cx="172.5" cy="783.5" r="6" fill="#44a97d"/>
<text x="198.5" y="791.0" text-anchor="middle" font-size="21">2</text>
<path d="M244 777.2L248.6 783.5L244 789.8L239.4 783.5Z" fill="#fff" stroke="#2ea06c" stroke-width="2.7"/>
<text x="274" y="791.0" text-anchor="middle" font-size="21">2</text>
<circle cx="172.5" cy="811.0" r="6" fill="#a9dcc5"/>
<text x="198.5" y="818.5" text-anchor="middle" font-size="21">3</text>
<path d="M244 804.7L248.6 811.0L244 817.3L239.4 811.0Z" fill="#fff" stroke="#8dcfae" stroke-width="2.7"/>
<text x="274" y="818.5" text-anchor="middle" font-size="21">3</text>
<text x="137" y="680" font-size="20.5">×10<tspan dy="-10" font-size="16">−7</tspan></text>
<text x="43.3" y="691" font-size="30" font-weight="bold">b</text>
<text transform="translate(84.5,862.6) rotate(-90)" text-anchor="middle" font-size="22.5"><tspan font-style="italic">κ</tspan><tspan dy="5" font-size="17">h</tspan><tspan dy="-5"> (m</tspan><tspan dy="-9" font-size="17">2</tspan><tspan dy="9">/ Pa × s)</tspan></text>
<text x="390" y="1100" text-anchor="middle" font-size="21">Δ<tspan font-style="italic">p</tspan> (mbar)</text>
<polyline points="145.8,1479.4 171.5,1468.4 197.3,1449.5 223.0,1419.5 248.8,1410.4 281.0,1375.7 313.2,1337.5 377.6,1303.5 442.0,1270.9 506.4,1239.4 570.8,1219.7 635.2,1205.7" fill="none" stroke="#ddf0e7" stroke-width="2"/>
<line x1="145.8" y1="1501.4" x2="642.2" y2="1501.4" stroke="#2b4f9c" stroke-width="3.2" stroke-dasharray="15,14.6"/>
<path d="M145.8 1450.6V1501.4M140.8 1450.6H150.8M140.8 1501.4H150.8" stroke="#3daa78" stroke-width="2.5" fill="none"/>
<circle cx="145.8" cy="1479.4" r="8" fill="#3daa78"/>
<path d="M171.5 1439.6V1490.8M166.5 1439.6H176.5M166.5 1490.8H176.5" stroke="#3daa78" stroke-width="2.5" fill="none"/>
<circle cx="171.5" cy="1468.4" r="8" fill="#3daa78"/>
<path d="M197.3 1420.2V1471.5M192.3 1420.2H202.3M192.3 1471.5H202.3" stroke="#3daa78" stroke-width="2.5" fill="none"/>
<circle cx="197.3" cy="1449.5" r="8" fill="#3daa78"/>
<path d="M223.0 1391.4V1441.9M218.0 1391.4H228.0M218.0 1441.9H228.0" stroke="#3daa78" stroke-width="2.5" fill="none"/>
<circle cx="223.0" cy="1419.5" r="8" fill="#3daa78"/>
<path d="M248.8 1381.9V1432M243.8 1381.9H253.8M243.8 1432H253.8" stroke="#3daa78" stroke-width="2.5" fill="none"/>
<circle cx="248.8" cy="1410.4" r="8" fill="#3daa78"/>
<path d="M281.0 1348.7V1397.1M276.0 1348.7H286.0M276.0 1397.1H286.0" stroke="#3daa78" stroke-width="2.5" fill="none"/>
<circle cx="281.0" cy="1375.7" r="8" fill="#3daa78"/>
<path d="M313.2 1311.3V1358.3M308.2 1311.3H318.2M308.2 1358.3H318.2" stroke="#3daa78" stroke-width="2.5" fill="none"/>
<circle cx="313.2" cy="1337.5" r="8" fill="#3daa78"/>
<path d="M377.6 1279.6V1323M372.6 1279.6H382.6M372.6 1323H382.6" stroke="#3daa78" stroke-width="2.5" fill="none"/>
<circle cx="377.6" cy="1303.5" r="8" fill="#3daa78"/>
<path d="M442.0 1247.7V1289M437.0 1247.7H447.0M437.0 1289H447.0" stroke="#3daa78" stroke-width="2.5" fill="none"/>
<circle cx="442.0" cy="1270.9" r="8" fill="#3daa78"/>
<path d="M506.4 1217.8V1256.1M501.4 1217.8H511.4M501.4 1256.1H511.4" stroke="#3daa78" stroke-width="2.5" fill="none"/>
<circle cx="506.4" cy="1239.4" r="8" fill="#3daa78"/>
<path d="M570.8 1200V1236M565.8 1200H575.8M565.8 1236H575.8" stroke="#3daa78" stroke-width="2.5" fill="none"/>
<circle cx="570.8" cy="1219.7" r="8" fill="#3daa78"/>
<path d="M635.2 1186.3V1220.8M630.2 1186.3H640.2M630.2 1220.8H640.2" stroke="#3daa78" stroke-width="2.5" fill="none"/>
<circle cx="635.2" cy="1205.7" r="8" fill="#3daa78"/>
<rect x="127.5" y="1157.5" width="520" height="393" fill="none" stroke="#858585" stroke-width="1.5"/>
<line x1="248.8" y1="1550.5" x2="248.8" y2="1545.5" stroke="#858585" stroke-width="1.5"/>
<line x1="248.8" y1="1157.5" x2="248.8" y2="1162.5" stroke="#858585" stroke-width="1.5"/>
<text x="248.8" y="1579" text-anchor="middle" font-size="21">100</text>
<line x1="377.6" y1="1550.5" x2="377.6" y2="1545.5" stroke="#858585" stroke-width="1.5"/>
<line x1="377.6" y1="1157.5" x2="377.6" y2="1162.5" stroke="#858585" stroke-width="1.5"/>
<text x="377.6" y="1579" text-anchor="middle" font-size="21">200</text>
<line x1="506.4" y1="1550.5" x2="506.4" y2="1545.5" stroke="#858585" stroke-width="1.5"/>
<line x1="506.4" y1="1157.5" x2="506.4" y2="1162.5" stroke="#858585" stroke-width="1.5"/>
<text x="506.4" y="1579" text-anchor="middle" font-size="21">300</text>
<line x1="635.2" y1="1550.5" x2="635.2" y2="1545.5" stroke="#858585" stroke-width="1.5"/>
<line x1="635.2" y1="1157.5" x2="635.2" y2="1162.5" stroke="#858585" stroke-width="1.5"/>
<text x="635.2" y="1579" text-anchor="middle" font-size="21">400</text>
<line x1="127.5" y1="1501.4" x2="132.5" y2="1501.4" stroke="#858585" stroke-width="1.5"/>
<line x1="647.5" y1="1501.4" x2="642.5" y2="1501.4" stroke="#858585" stroke-width="1.5"/>
<text x="115.5" y="1509.6" text-anchor="end" font-size="21">1</text>
<line x1="127.5" y1="1403.5" x2="132.5" y2="1403.5" stroke="#858585" stroke-width="1.5"/>
<line x1="647.5" y1="1403.5" x2="642.5" y2="1403.5" stroke="#858585" stroke-width="1.5"/>
<text x="115.5" y="1411.7" text-anchor="end" font-size="21">1.2</text>
<line x1="127.5" y1="1305.6" x2="132.5" y2="1305.6" stroke="#858585" stroke-width="1.5"/>
<line x1="647.5" y1="1305.6" x2="642.5" y2="1305.6" stroke="#858585" stroke-width="1.5"/>
<text x="115.5" y="1313.8" text-anchor="end" font-size="21">1.4</text>
<line x1="127.5" y1="1207.7" x2="132.5" y2="1207.7" stroke="#858585" stroke-width="1.5"/>
<line x1="647.5" y1="1207.7" x2="642.5" y2="1207.7" stroke="#858585" stroke-width="1.5"/>
<text x="115.5" y="1215.9" text-anchor="end" font-size="21">1.6</text>
<rect x="139.5" y="1169.5" width="116.5" height="76.5" fill="#fff" stroke="#444" stroke-width="1.2"/>
<circle cx="167.2" cy="1190" r="5.7" fill="#3daa78"/>
<text x="201.4" y="1198.3" font-size="21">Holo</text>
<rect x="143.9" y="1225" width="14.9" height="3.6" fill="#22468f"/><rect x="162.9" y="1225" width="25.8" height="3.6" fill="#22468f"/>
<text x="201.4" y="1234.4" font-size="21">Wall</text>
<text x="43.8" y="1163.5" font-size="30" font-weight="bold">c</text>
<text transform="translate(62.0,1353.3) rotate(-90)" text-anchor="middle" font-size="23"><tspan font-style="italic">G</tspan><tspan dy="5.7" font-size="15.5">h</tspan></text>
<text x="387.3" y="1615.3" text-anchor="middle" font-size="21">Δ<tspan font-style="italic">p</tspan> (mbar)</text>
</svg>
</body></html>
